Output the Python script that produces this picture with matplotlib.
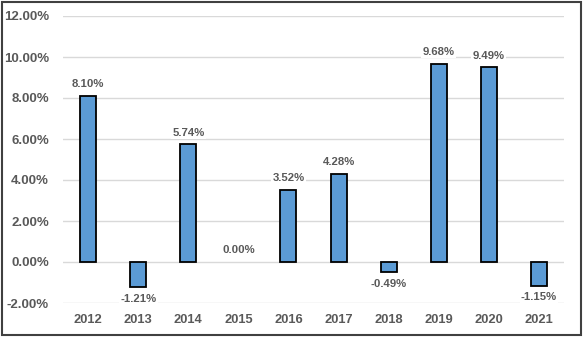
import numpy as np
import matplotlib.pyplot as plt
from matplotlib.patches import Rectangle

# === Données ===
years = ['2012', '2013', '2014', '2015', '2016', '2017', '2018', '2019', '2020', '2021']
returns = [8.10, -1.21, 5.74, 0.00, 3.52, 4.28, -0.49, 9.68, 9.49, -1.15]
y_ticks = [-2, 0, 2, 4, 6, 8, 10, 12]

txt_color = '#595959'
plt.rcParams['font.family'] = ['Liberation Sans', 'DejaVu Sans']

fig = plt.figure(figsize=(5.83, 3.37), dpi=100)
ax = fig.add_axes([63 / 583, 1 - 303 / 337, (564 - 63) / 583, (303 - 16) / 337])

x = np.arange(len(years))
# pas de contour pour une barre à 0 (invisible dans l'original)
lw = [1.3 if v != 0 else 0 for v in returns]
ax.bar(x, returns, width=0.32, color='#5B9BD5', edgecolor='black', linewidth=lw, zorder=3)

# Étiquettes de valeur
for xi, v in zip(x, returns):
    if v >= 0:
        ax.text(xi, v + 0.33, f'{v:.2f}%', ha='center', va='bottom', fontsize=8.2,
                fontweight='bold', color=txt_color, zorder=4,
                bbox=dict(facecolor='white', edgecolor='none', pad=1))
    else:
        ax.text(xi, v - 0.33, f'{v:.2f}%', ha='center', va='top', fontsize=8.2,
                fontweight='bold', color=txt_color, zorder=4,
                bbox=dict(facecolor='white', edgecolor='none', pad=1))

ax.set_xlim(-0.5, len(years) - 0.5)
ax.set_ylim(-2, 12)
ax.set_yticks(y_ticks)
ax.set_yticklabels([f'{t:.2f}%' for t in y_ticks])
ax.set_xticks(x)
ax.set_xticklabels(years)
ax.yaxis.grid(True, color='#D9D9D9', linewidth=1, zorder=0)
ax.tick_params(axis='y', length=0, labelsize=9.5, labelcolor=txt_color, pad=10)
ax.tick_params(axis='x', length=0, labelsize=9.3, labelcolor=txt_color, pad=8)
for lbl in ax.get_xticklabels() + ax.get_yticklabels():
    lbl.set_fontweight('bold')
for s in ax.spines.values():
    s.set_visible(False)

# Cadre autour de la figure
fig.patches.append(Rectangle((0.004, 0.006), 0.992, 0.988, transform=fig.transFigure,
                             fill=False, edgecolor='#404040', linewidth=1.5))

fig.savefig('out.png', dpi=100)
